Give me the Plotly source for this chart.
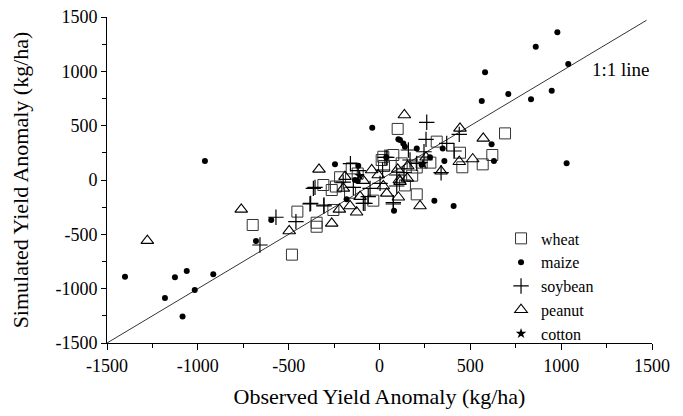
import plotly.graph_objects as go

# ---- data (observed, simulated yield anomaly, kg/ha) ----
wheat_x = [-698, -482, -452, -346, -346, -254, -162, -263, -309, -217, -153, -34, 12, 25, 76, 21, 100,
           205, 232, 122, 315, 443, 456, 568, 621, 691, 205, -240, -120, 180, 280, 140]
wheat_y = [-414, -687, -291, -393, -430, -276, -117, -92, -46, 25, 107, -190, 184, 129, 230, 214, 470,
           115, 160, 153, 353, 251, 117, 144, 230, 429, -132, -60, 60, 40, 160, -50]

maize_x = [-1401, -1181, -1126, -1061, -1017, -1084, -915, -961, -680, -596, -40, 104, -245, -117, -181,
           -135, -120, 80, 302, 408, 113, 131, 140, 205, 278, 232, 348, 357, 563, 709, 834, 948, 581,
           860, 979, 1039, 1030, 617, 630, 37]
maize_y = [-890, -1086, -896, -837, -1012, -1257, -868, 175, -561, -368, 481, 374, 144, 130, -178,
           0, -10, -282, -190, -239, 368, 337, 307, 291, 209, 140, 291, 175, 727, 791, 742, 822, 991,
           1226, 1359, 1067, 153, 328, 175, 209]

soy_x = [-658, -570, -460, -379, -306, -80, 76, 260, 439, 410, 339, 370, 256, 159, 245, 205, 168, 95,
         135, 40, 17, -117, -144, -355, -52, 3, 95, -62, 76, -383, -306, -89, 30, -364, -200, -160]
soy_y = [-598, -343, -383, -215, -230, -215, -209, 531, 420, 267, 67, 337, 374, 276, 260, 153, 184, 46,
         67, 209, 92, 86, -68, -68, -77, -31, -55, -153, -221, -221, -239, -215, 209, -77, -20, 150]

peanut_x = [-1278, -761, -497, -263, -221, -162, -126, 137, 443, 571, 513, 439, 339, 256, 155, 100, 109,
            153, -43, -7, -333, -190, -89, -199, -107, 21, 40, 113, 104, 223]
peanut_y = [-558, -270, -469, -399, -270, -239, -297, 598, 475, 383, 193, 168, 80, 209, 129, 98, 0,
            15, 92, 46, 98, 31, -6, -77, -153, -55, -123, -15, -159, -239]

cotton_x = [-110, 240]
cotton_y = [40, 150]

line_x = [-1500, 1470]
line_y = [-1500, 1470]

tick_vals = [-1500, -1000, -500, 0, 500, 1000, 1500]
tick_text = ["-1500", "-1000", "-500", "0", "500", "1000", "1500"]

FONT = "Liberation Serif, Times New Roman, serif"

fig = go.Figure()
fig.add_trace(go.Scatter(x=line_x, y=line_y, mode="lines", line=dict(color="black", width=0.8),
                         showlegend=False, hoverinfo="skip"))
fig.add_trace(go.Scatter(x=wheat_x, y=wheat_y, mode="markers", name="wheat",
                         marker=dict(symbol="square-open", size=11, color="#333",
                                     line=dict(width=1))))
fig.add_trace(go.Scatter(x=maize_x, y=maize_y, mode="markers", name="maize",
                         marker=dict(symbol="circle", size=6, color="black")))
fig.add_trace(go.Scatter(x=soy_x, y=soy_y, mode="markers", name="soybean",
                         marker=dict(symbol="cross-thin-open", size=11, color="black",
                                     line=dict(width=1.2, color="black"))))
fig.add_trace(go.Scatter(x=peanut_x, y=peanut_y, mode="markers", name="peanut",
                         marker=dict(symbol="triangle-up-open", size=11, color="black",
                                     line=dict(width=1.1))))
fig.add_trace(go.Scatter(x=cotton_x, y=cotton_y, mode="markers", name="cotton",
                         marker=dict(symbol="star", size=8, color="black")))

fig.add_annotation(x=1330, y=1020, text="1:1 line", showarrow=False,
                   font=dict(family=FONT, size=19, color="black"))

axis_common = dict(range=[-1500, 1500], tickvals=tick_vals, ticktext=tick_text,
                   showgrid=False, zeroline=False, automargin=False, ticklabeloverflow="allow",
                   showline=True, linecolor="black", linewidth=1, ticks="outside", ticklen=6,
                   tickcolor="black", tickfont=dict(family=FONT, size=18, color="black"),
                   minor=dict(dtick=250, ticks="outside", ticklen=4, tickcolor="black"))

fig.update_xaxes(**axis_common,
                 title=dict(text="Observed Yield Anomaly (kg/ha)", font=dict(family=FONT, size=22, color="black"),
                            standoff=14))
fig.update_yaxes(**axis_common,
                 title=dict(text="Simulated Yield Anomaly (kg/ha)", font=dict(family=FONT, size=22, color="black"),
                            standoff=24))
fig.update_yaxes(ticklen=5)

fig.update_layout(
    width=683, height=416,
    margin=dict(l=99, r=39, t=9, b=81),
    plot_bgcolor="white", paper_bgcolor="white",
    legend=dict(x=0.723, y=0.175, xanchor="left", yanchor="middle", bgcolor="rgba(0,0,0,0)",
                font=dict(family=FONT, size=16, color="black"), tracegroupgap=0, itemwidth=30),
)

fig.write_html("out.html")
